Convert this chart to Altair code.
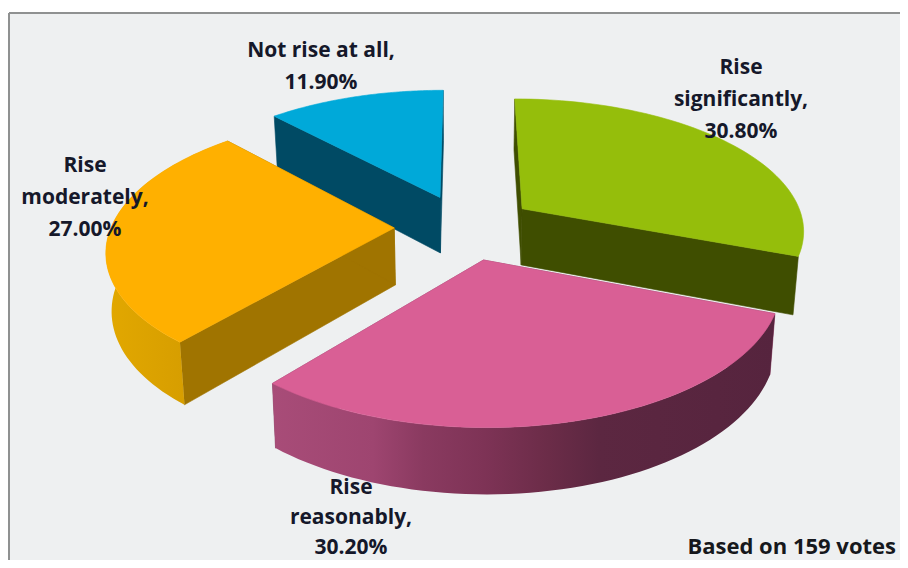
import math
import altair as alt
import pandas as pd

# ---- chart values ----
names = ["Rise significantly", "Rise reasonably", "Rise moderately", "Not rise at all"]
shares = [30.8, 30.2, 27.0, 11.9]
label_texts = ["Rise\nsignificantly,\n30.80%", "Rise\nreasonably,\n30.20%",
               "Rise\nmoderately,\n27.00%", "Not rise at all,\n11.90%"]
note = "Based on 159 votes"

# ---- styles ----
top_colors = ["#95BE0B", "#D95F95", "#FFB000", "#00A9D9"]
radial_colors = ["#3F4E00", "#8A3A60", "#A07400", "#004A64"]
pink_stops = [(0.0, "#A84C78"), (0.2, "#9E4570"), (0.3, "#8A3A60"), (0.42, "#7E3356"),
              (0.55, "#6B2C48"), (0.65, "#5C2741"), (1.0, "#56243E")]
orange_stops = [(0.0, "#E2A800"), (1.0, "#D09800")]
outer_fill = {
    1: alt.LinearGradient(gradient="linear", x1=0, x2=1, y1=0, y2=0,
                          stops=[alt.GradientStop(offset=o, color=c) for o, c in pink_stops]),
    2: alt.LinearGradient(gradient="linear", x1=0, x2=1, y1=0, y2=0,
                          stops=[alt.GradientStop(offset=o, color=c) for o, c in orange_stops]),
}
background = "#EEF0F1"
frame_color = "#8F9191"
text_color = "#15182A"
font = "Open Sans"

# ---- camera of the 3-D pie ----
CX, CY = 465.0, 227.0      # centre of the pie on the page
FX, FY = 283.0, 131.4      # half axes of the disc
PERSP = 0.15               # perspective strength
EXPLODE = 0.25             # how far the slices are pulled out, in radii
DEPTH = 57.0               # thickness of the pie
SHRINK = 0.984             # lower face is further from the viewer


def project(u, v, lower=False):
    w = 1 + PERSP * v
    x = FX * u / w
    y = -FY * v / w
    if lower:
        return CX + x * SHRINK, CY + y * SHRINK + DEPTH / w
    return CX + x, CY + y


x_scale = alt.Scale(domain=[8, 900], nice=False, zero=False)
y_scale = alt.Scale(domain=[560, 8], nice=False, zero=False)


def polygon(points, fill, seam=True):
    df = pd.DataFrame({"px": [p[0] for p in points], "py": [p[1] for p in points],
                       "i": list(range(len(points)))})
    kw = {"stroke": fill, "strokeWidth": 0.6} if seam else {"strokeWidth": 0}
    return alt.Chart(df).mark_line(fill=fill, interpolate="linear-closed", **kw).encode(
        x=alt.X("px:Q", scale=x_scale, axis=None),
        y=alt.Y("py:Q", scale=y_scale, axis=None),
        order=alt.Order("i:Q"),
    )


total = sum(shares)
starts = [sum(shares[:i]) / total * 2 * math.pi for i in range(len(shares))]
ends = [sum(shares[:i + 1]) / total * 2 * math.pi for i in range(len(shares))]

slice_layers = {}
for s in range(len(shares)):
    a0, a1 = starts[s], ends[s]
    mid = (a0 + a1) / 2
    ou, ov = EXPLODE * math.sin(mid), EXPLODE * math.cos(mid)
    n = 60
    rim = [(ou + math.sin(a0 + (a1 - a0) * j / n), ov + math.cos(a0 + (a1 - a0) * j / n))
           for j in range(n + 1)]
    apex = (ou, ov)
    layers = []
    # radial walls
    for end_pt in (rim[0], rim[-1]):
        layers.append(polygon([project(*apex), project(*end_pt),
                               project(*end_pt, lower=True), project(*apex, lower=True)],
                              radial_colors[s]))
    # curved wall
    if s in outer_fill:
        layers.append(polygon([project(*p) for p in rim] +
                              [project(*p, lower=True) for p in reversed(rim)],
                              outer_fill[s], seam=False))
    # top face
    layers.append(polygon([project(*apex)] + [project(*p) for p in rim], top_colors[s]))
    slice_layers[s] = layers

# ---- frame ----
frame = pd.DataFrame({"x0": [9], "x1": [900], "y0": [13], "y1": [560]})
panel = alt.Chart(frame).mark_rect(fill=background).encode(
    x=alt.X("x0:Q", scale=x_scale, axis=None), x2="x1:Q",
    y=alt.Y("y0:Q", scale=y_scale, axis=None), y2="y1:Q")
top_rule = alt.Chart(frame).mark_rule(color=frame_color, strokeWidth=2).encode(
    x=alt.X("x0:Q", scale=x_scale, axis=None), x2="x1:Q",
    y=alt.Y("y0:Q", scale=y_scale, axis=None))
left_rule = alt.Chart(frame).mark_rule(color=frame_color, strokeWidth=2).encode(
    x=alt.X("x0:Q", scale=x_scale, axis=None),
    y=alt.Y("y0:Q", scale=y_scale, axis=None), y2="y1:Q")

# ---- labels (y of the first line of each) ----
label_x = [741, 351, 85, 321]
label_y = [68, 488, 166, 51]
label_gap = [32, 30, 32, 32]
labels = []
for t, lx, ly, gap in zip(label_texts, label_x, label_y, label_gap):
    labels.append(alt.Chart(pd.DataFrame({"t": [t], "lx": [lx], "ly": [ly]})).mark_text(
        font=font, fontSize=21, fontWeight="bold", color=text_color,
        lineBreak="\n", lineHeight=gap, align="center", baseline="middle",
    ).encode(
        x=alt.X("lx:Q", scale=x_scale, axis=None),
        y=alt.Y("ly:Q", scale=y_scale, axis=None),
        text="t:N",
    ))
note_df = pd.DataFrame({"t": [note], "lx": [896], "ly": [547]})
note_mark = alt.Chart(note_df).mark_text(
    font=font, fontSize=22, fontWeight="bold", color="#16181C",
    align="right", baseline="middle",
).encode(
    x=alt.X("lx:Q", scale=x_scale, axis=None),
    y=alt.Y("ly:Q", scale=y_scale, axis=None),
    text="t:N",
)

order = [3, 2, 1, 0]
all_layers = [panel, top_rule, left_rule]
for s in order:
    all_layers += slice_layers[s]
all_layers += labels + [note_mark]

chart = alt.layer(*all_layers).properties(
    width=892, height=552, padding=0, background="white",
    autosize=alt.AutoSizeParams(type="none"),
).configure_view(stroke=None)

chart.save("out.html", embed_options={"renderer": "svg", "actions": False})
